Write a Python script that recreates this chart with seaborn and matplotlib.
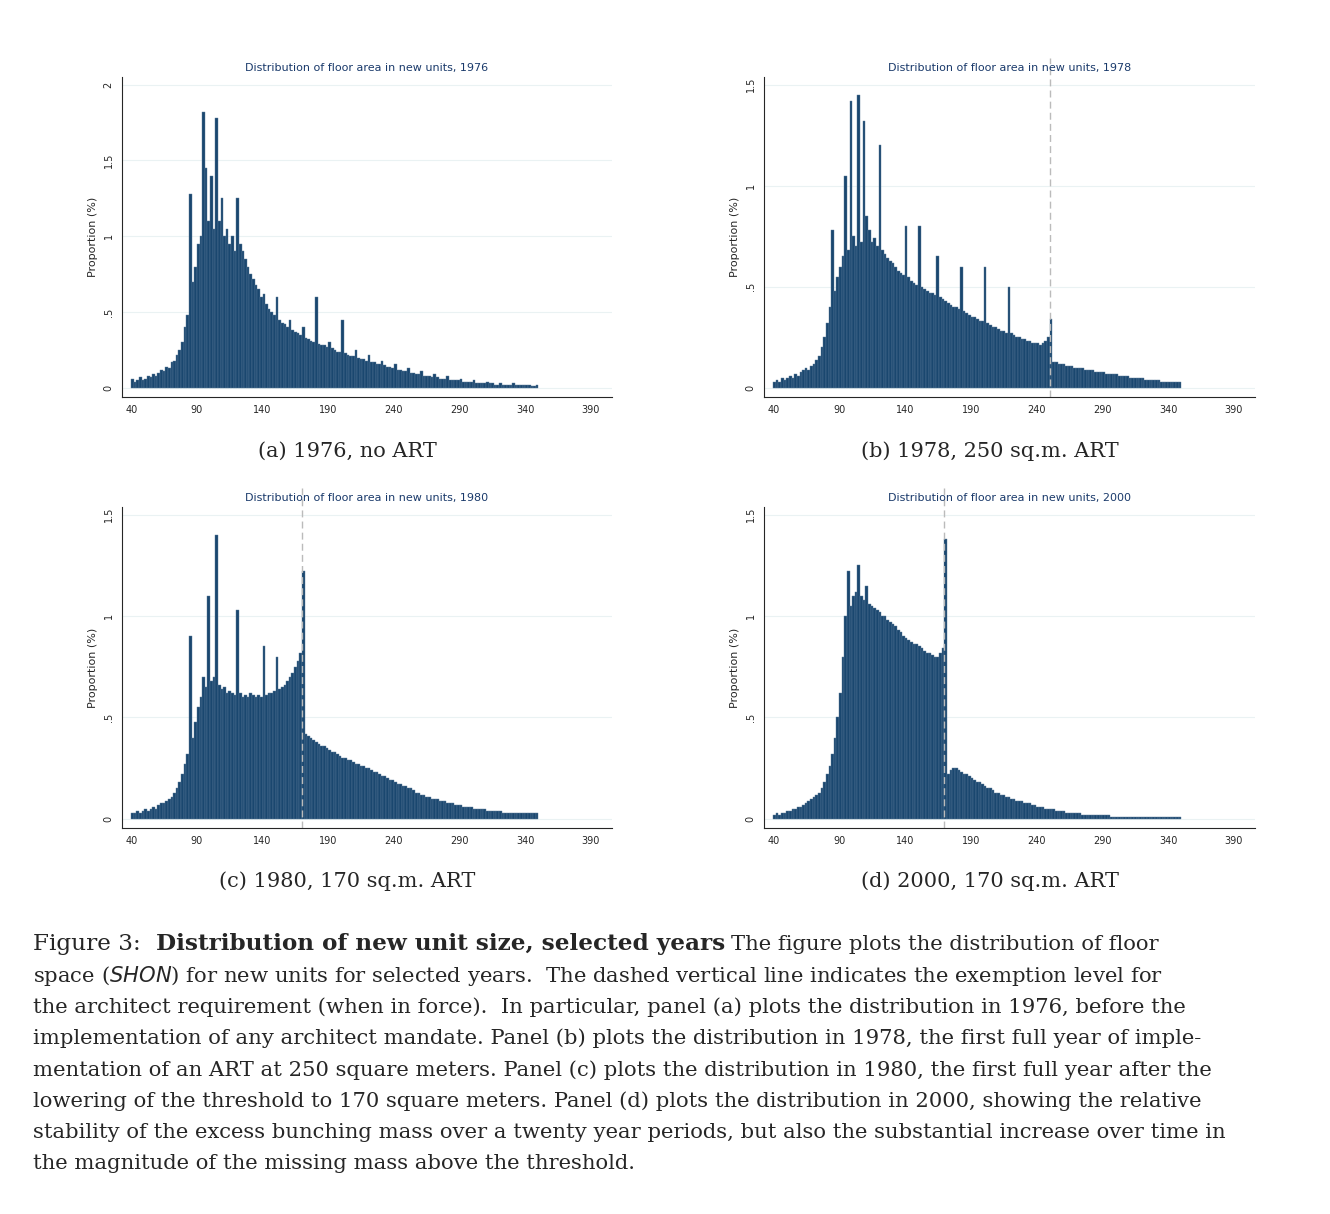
import numpy as np
import matplotlib
matplotlib.use("Agg")
import matplotlib.pyplot as plt
import seaborn as sns

# bin starts, 2 sq.m. bins from 40 to 348
area_bins = list(range(40, 350, 2))

# proportions (%) x 100
share_1976 = [
    6, 4, 5, 7, 5, 6, 8, 7, 9, 8,
    10, 12, 11, 14, 13, 17, 18, 22, 25, 30,
    40, 48, 128, 70, 80, 95, 100, 182, 145, 110,
    140, 105, 178, 110, 125, 100, 105, 95, 100, 90,
    125, 95, 90, 85, 80, 75, 72, 68, 65, 60,
    62, 55, 52, 50, 48, 60, 45, 43, 42, 40,
    45, 38, 37, 36, 35, 40, 33, 32, 31, 30,
    60, 29, 28, 28, 27, 30, 26, 25, 24, 24,
    45, 23, 22, 21, 21, 25, 20, 19, 19, 18,
    22, 17, 17, 16, 16, 18, 15, 14, 14, 13,
    16, 12, 12, 11, 11, 13, 10, 10, 9, 9,
    11, 8, 8, 8, 7, 9, 7, 6, 6, 6,
    8, 5, 5, 5, 5, 6, 4, 4, 4, 4,
    5, 3, 3, 3, 3, 4, 3, 3, 2, 2,
    3, 2, 2, 2, 2, 3, 2, 2, 2, 2,
    2, 2, 1, 1, 2,
]
share_1978 = [
    3, 4, 3, 5, 4, 5, 6, 5, 7, 6,
    8, 9, 10, 9, 11, 12, 14, 16, 20, 25,
    32, 40, 78, 48, 55, 60, 65, 105, 68, 142,
    75, 70, 145, 72, 132, 85, 78, 72, 74, 70,
    120, 68, 66, 64, 63, 62, 60, 58, 57, 56,
    80, 55, 53, 52, 51, 80, 50, 49, 48, 47,
    47, 46, 65, 45, 44, 43, 42, 41, 40, 40,
    39, 60, 38, 37, 36, 35, 35, 34, 33, 33,
    60, 32, 31, 30, 30, 29, 28, 28, 27, 50,
    27, 26, 25, 25, 24, 24, 23, 23, 22, 22,
    22, 21, 22, 23, 25, 34, 13, 13, 12, 12,
    12, 11, 11, 11, 10, 10, 10, 10, 9, 9,
    9, 9, 8, 8, 8, 8, 7, 7, 7, 7,
    7, 6, 6, 6, 6, 5, 5, 5, 5, 5,
    5, 4, 4, 4, 4, 4, 4, 3, 3, 3,
    3, 3, 3, 3, 3,
]
share_1980 = [
    3, 3, 4, 3, 4, 5, 4, 5, 6, 5,
    7, 8, 8, 9, 10, 11, 13, 15, 18, 22,
    27, 32, 90, 40, 48, 55, 60, 70, 65, 110,
    68, 70, 140, 66, 64, 65, 62, 63, 62, 61,
    103, 62, 60, 61, 60, 62, 61, 60, 61, 60,
    85, 61, 62, 62, 63, 80, 64, 65, 66, 68,
    70, 72, 75, 78, 82, 122, 42, 41, 40, 39,
    38, 37, 36, 36, 35, 34, 33, 33, 32, 31,
    30, 30, 29, 29, 28, 27, 27, 26, 26, 25,
    25, 24, 23, 23, 22, 21, 21, 20, 19, 19,
    18, 17, 17, 16, 16, 15, 15, 14, 13, 13,
    12, 12, 11, 11, 10, 10, 10, 9, 9, 9,
    8, 8, 8, 7, 7, 7, 6, 6, 6, 6,
    5, 5, 5, 5, 5, 4, 4, 4, 4, 4,
    4, 3, 3, 3, 3, 3, 3, 3, 3, 3,
    3, 3, 3, 3, 3,
]
share_2000 = [
    2, 3, 2, 3, 3, 4, 4, 5, 5, 6,
    6, 7, 8, 9, 10, 11, 12, 13, 15, 18,
    22, 26, 32, 40, 50, 62, 80, 100, 122, 105,
    110, 112, 125, 110, 108, 115, 106, 105, 104, 103,
    102, 100, 100, 98, 97, 96, 95, 93, 92, 90,
    89, 88, 87, 86, 86, 85, 84, 83, 82, 82,
    81, 80, 80, 82, 84, 138, 22, 24, 25, 25,
    24, 23, 22, 22, 21, 20, 19, 18, 18, 17,
    16, 15, 15, 14, 13, 13, 12, 12, 11, 11,
    10, 10, 9, 9, 9, 8, 8, 8, 7, 7,
    6, 6, 6, 5, 5, 5, 5, 4, 4, 4,
    4, 3, 3, 3, 3, 3, 3, 2, 2, 2,
    2, 2, 2, 2, 2, 2, 2, 2, 1, 1,
    1, 1, 1, 1, 1, 1, 1, 1, 1, 1,
    1, 1, 1, 1, 1, 1, 1, 1, 1, 1,
    1, 1, 1, 1, 1,
]

years = ["1976", "1978", "1980", "2000"]
shares = [share_1976, share_1978, share_1980, share_2000]
thresholds = [None, 250, 170, 170]
subcaptions = ["(a) 1976, no ART", "(b) 1978, 250 sq.m. ART",
               "(c) 1980, 170 sq.m. ART", "(d) 2000, 170 sq.m. ART"]
sub_y = [451, 451, 881, 881]
y_tops = [2, 1.5, 1.5, 1.5]

sns.set_style("white")
W, H = 1330, 1214
fig = plt.figure(figsize=(W / 100, H / 100), dpi=100)

boxes = [(122, 77, 612, 397), (764, 77, 1255, 397),
         (122, 507, 612, 828), (764, 507, 1255, 828)]
navy = "#1a476f"
for i, (l, t, r, b) in enumerate(boxes):
    ax = fig.add_axes([l / W, 1 - b / H, (r - l) / W, (b - t) / H])
    vals = np.array(shares[i]) / 100.0
    sns.histplot(x=area_bins, weights=vals, binwidth=2, binrange=(40, 350),
                 color=navy, edgecolor="#5a7a99", linewidth=0.3, alpha=1, ax=ax)
    top = y_tops[i]
    ax.set_xlim(33, 406)
    ax.set_ylim(-0.03 * top, top * 1.025)
    ax.set_xticks(range(40, 391, 50))
    yt = [0, 0.5, 1, 1.5, 2] if top == 2 else [0, 0.5, 1, 1.5]
    ax.set_yticks(yt)
    ax.set_yticklabels(["0" if v == 0 else ("%g" % v).lstrip("0") for v in yt],
                       rotation=90, va="center")
    ax.tick_params(axis="both", labelsize=7, length=3, color="black", pad=3)
    for v in yt:
        ax.axhline(v, color="#eaf2f3", lw=0.8, zorder=0)
    for s in ["top", "right"]:
        ax.spines[s].set_visible(False)
    ax.spines["left"].set_linewidth(0.8)
    ax.spines["bottom"].set_linewidth(0.8)
    ax.set_ylabel("Proportion (%)", fontsize=8)
    ax.set_xlabel("")
    if thresholds[i]:
        ax.axvline(thresholds[i], color="#bbbbbb", lw=1, ls=(0, (5, 3)),
                   ymax=1.06, clip_on=False)
    ax.set_title("Distribution of floor area in new units, " + years[i],
                 fontsize=8, color="#1a3a6b", pad=4)
    fig.text(((l + r) / 2 - 20) / W, 1 - sub_y[i] / H, subcaptions[i],
             fontsize=15, family="DejaVu Serif", ha="center", va="center")

caption = [
    "space ($\\it{SHON}$) for new units for selected years.  The dashed vertical line indicates the exemption level for",
    "the architect requirement (when in force).  In particular, panel (a) plots the distribution in 1976, before the",
    "implementation of any architect mandate. Panel (b) plots the distribution in 1978, the first full year of imple-",
    "mentation of an ART at 250 square meters. Panel (c) plots the distribution in 1980, the first full year after the",
    "lowering of the threshold to 170 square meters. Panel (d) plots the distribution in 2000, showing the relative",
    "stability of the excess bunching mass over a twenty year periods, but also the substantial increase over time in",
    "the magnitude of the missing mass above the threshold.",
]
fs = 15.2
t0 = fig.text(33 / W, 1 - 944 / H, "Figure 3:  ", fontsize=fs + 1.5,
              family="DejaVu Serif", va="center")
fig.canvas.draw()
bb = t0.get_window_extent()
t1 = fig.text(bb.x1 / W, 1 - 944 / H, "Distribution of new unit size, selected years",
              fontsize=fs + 1.5, family="DejaVu Serif", weight="bold", va="center")
fig.canvas.draw()
bb = t1.get_window_extent()
fig.text(bb.x1 / W + 0.005, 1 - 944 / H, "The figure plots the distribution of floor",
         fontsize=fs, family="DejaVu Serif", va="center")
for k, line in enumerate(caption):
    fig.text(33 / W, 1 - (976 + 31.3 * k) / H, line, fontsize=fs,
             family="DejaVu Serif", va="center")

fig.savefig("out.png", dpi=100)
